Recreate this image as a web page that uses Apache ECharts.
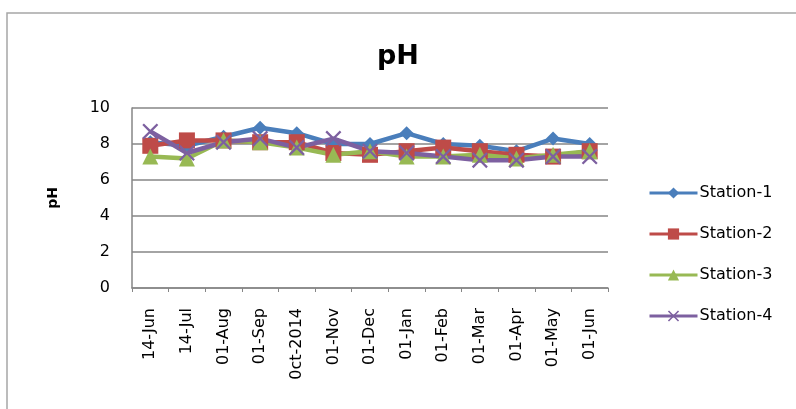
<!DOCTYPE html>
<html>
<head>
<meta charset="utf-8">
<script src="https://cdn.jsdelivr.net/npm/echarts@6/dist/echarts.min.js"></script>
<style>
	html, body { margin: 0; padding: 0; background: #fff; }
	#main { width: 796px; height: 409px; }
</style>
</head>
<body>
<div id="main"></div>
<script>
	// categories on the x axis
	var months = ['14-Jun', '14-Jul', '01-Aug', '01-Sep', '0ct-2014', '01-Nov', '01-Dec',
		'01-Jan', '01-Feb', '01-Mar', '01-Apr', '01-May', '01-Jun'];
	var stationNames = ['Station-1', 'Station-2', 'Station-3', 'Station-4'];
	// pH readings
	var station1 = [8.1, 7.9, 8.4, 8.9, 8.6, 8.0, 8.0, 8.6, 8.0, 7.9, 7.6, 8.3, 8.0];
	var station2 = [7.9, 8.2, 8.2, 8.1, 8.1, 7.5, 7.4, 7.6, 7.8, 7.6, 7.4, 7.3, 7.6];
	var station3 = [7.3, 7.2, 8.2, 8.1, 7.8, 7.4, 7.6, 7.3, 7.3, 7.4, 7.2, 7.4, 7.6];
	var station4 = [8.7, 7.5, 8.1, 8.3, 7.8, 8.3, 7.6, 7.5, 7.3, 7.1, 7.1, 7.3, 7.3];
	var yTicks = [0, 2, 4, 6, 8, 10];

	var colors = ['#4a7ebb', '#be4b48', '#98b954', '#7d60a0'];
	var symbols = ['diamond', 'rect', 'triangle',
		'path://M0,1L1,0L5,4L9,0L10,1L6,5L10,9L9,10L5,6L1,10L0,9L4,5Z'];
	var sizes = [14, 16, 16, 16];
	var allData = [station1, station2, station3, station4];

	var font = 'DejaVu Sans';
	var myChart = echarts.init(document.getElementById('main'));

	var seriesList = [];
	for (var i = 0; i < stationNames.length; i++) {
		seriesList.push({
			name: stationNames[i],
			type: 'line',
			data: allData[i],
			symbol: symbols[i],
			symbolSize: sizes[i],
			lineStyle: { width: 4.5, color: colors[i] },
			itemStyle: { color: colors[i] },
			animation: false
		});
	}

	var option = {
		backgroundColor: '#fff',
		color: colors,
		graphic: [{
			type: 'rect',
			shape: { x: 7, y: 13, width: 800, height: 410 },
			style: { fill: 'none', stroke: '#a6a6a6', lineWidth: 1.5 },
			silent: true
		}],
		title: {
			text: 'pH',
			left: 'center',
			top: 38,
			textStyle: { fontFamily: font, fontSize: 27, fontWeight: 'bold', color: '#000' }
		},
		legend: {
			orient: 'vertical',
			left: 643,
			top: 180,
			itemWidth: 48,
			itemHeight: 14,
			itemGap: 25,
			data: stationNames,
			lineStyle: { width: 3 },
			textStyle: { fontFamily: font, fontSize: 16, color: '#000', padding: [0, 0, 0, -3] }
		},
		grid: { left: 132, right: 188, top: 108, bottom: 121, containLabel: false },
		xAxis: {
			type: 'category',
			data: months,
			boundaryGap: true,
			axisLine: { lineStyle: { color: '#868686', width: 1.5 } },
			axisTick: { show: true, interval: 0, length: 4, lineStyle: { color: '#868686' } },
			axisLabel: { interval: 0, rotate: 90, margin: 20, fontFamily: font, fontSize: 16, color: '#000' }
		},
		yAxis: {
			type: 'value',
			min: yTicks[0],
			max: yTicks[yTicks.length - 1],
			interval: 2,
			name: 'pH',
			nameLocation: 'middle',
			nameRotate: 90,
			nameGap: 72,
			nameTextStyle: { fontFamily: font, fontSize: 14, fontWeight: 'bold', color: '#000' },
			axisLine: { show: true, lineStyle: { color: '#868686', width: 1.5 } },
			axisTick: { show: false },
			splitLine: { lineStyle: { color: '#868686', width: 1.5 } },
			axisLabel: { margin: 22, fontFamily: font, fontSize: 16, color: '#000' }
		},
		series: seriesList
	};
	myChart.setOption(option);
</script>
</body>
</html>
